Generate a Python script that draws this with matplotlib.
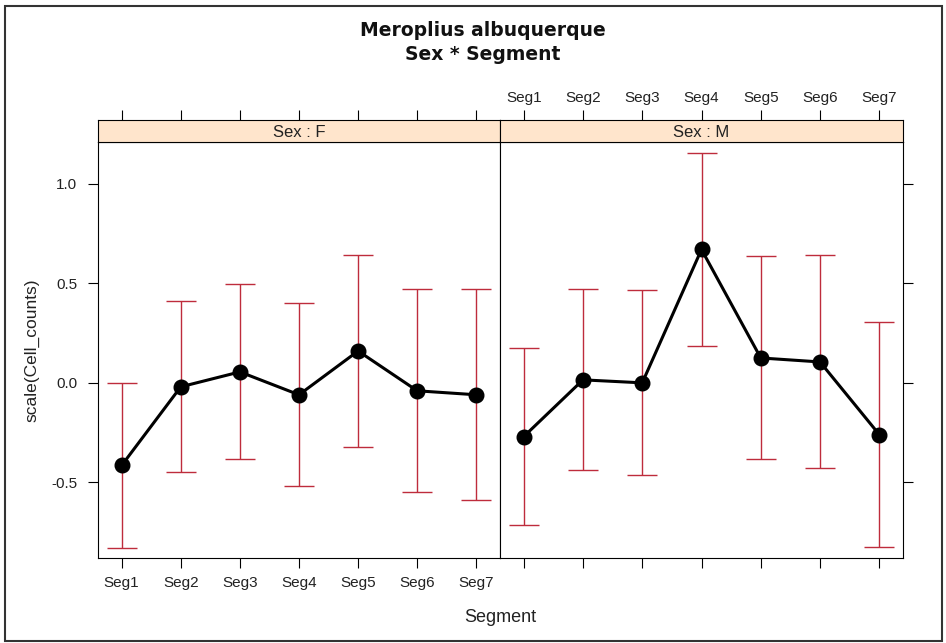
import numpy as np
import matplotlib.pyplot as plt
from matplotlib.patches import Rectangle

# group means of scaled cell counts with half-width of the interval
segments = ['Seg1', 'Seg2', 'Seg3', 'Seg4', 'Seg5', 'Seg6', 'Seg7']
sex_levels = ['F', 'M']
f_mean = [-0.415, -0.02, 0.055, -0.06, 0.16, -0.04, -0.06]
f_half = [0.415, 0.43, 0.44, 0.46, 0.48, 0.51, 0.53]
m_mean = [-0.27, 0.015, 0.0, 0.67, 0.125, 0.105, -0.26]
m_half = [0.445, 0.455, 0.465, 0.485, 0.51, 0.535, 0.565]
y_ticks = [-0.5, 0.0, 0.5, 1.0]
y_tick_labels = ['-0.5', '0.0', '0.5', '1.0']

plt.rcParams['font.family'] = ['Liberation Sans', 'DejaVu Sans']

W, H = 946, 643
fig = plt.figure(figsize=(W / 100, H / 100), dpi=100)


def px_box(x0, y0, x1, y1):
    # pixel box (top-left origin) -> figure fraction rect
    return [x0 / W, 1 - y1 / H, (x1 - x0) / W, (y1 - y0) / H]


text_col = '#222222'
bar_col = '#BE2C3C'
panels = [(98, 500), (500, 903)]
x = np.arange(1, len(segments) + 1)

for i, (sex, means, halves) in enumerate(zip(sex_levels, [f_mean, m_mean], [f_half, m_half])):
    x0, x1 = panels[i]
    ax = fig.add_axes(px_box(x0, 142, x1, 558))
    strip = fig.add_axes(px_box(x0, 120, x1, 142))

    ax.errorbar(x, means, yerr=halves, fmt='none', ecolor=bar_col,
                elinewidth=1.0, capsize=10.5, capthick=1.0, zorder=2)
    ax.plot(x, means, '-o', color='black', lw=2.2, ms=10.5, zorder=3)

    ax.set_xlim(0.6, 7.4)
    ax.set_ylim(-0.88, 1.21)
    for sp in ax.spines.values():
        sp.set_linewidth(0.8)

    ax.set_xticks(x)
    ax.set_xticklabels(segments)
    ax.set_yticks(y_ticks)
    ax.set_yticklabels(y_tick_labels)
    ax.tick_params(axis='x', direction='out', length=7, width=0.8, pad=6,
                   labelsize=11, labelcolor=text_col,
                   bottom=True, labelbottom=(i == 0))
    if i == 0:
        ax.tick_params(axis='y', direction='out', length=7, width=0.8, pad=8,
                       labelsize=11, labelcolor=text_col,
                       left=True, right=False, labelleft=True)
    else:
        ax.tick_params(axis='y', direction='out', length=7, width=0.8,
                       left=False, right=True, labelleft=False, labelright=False)

    # strip with the panel label, top axis ticks sit above it
    strip.set_facecolor('#FFE5CC')
    strip.set_xlim(0.6, 7.4)
    strip.set_ylim(0, 1)
    strip.set_yticks([])
    strip.set_xticks(x)
    strip.set_xticklabels(segments)
    strip.tick_params(axis='x', direction='out', length=7, width=0.8, pad=4,
                      labelsize=11, labelcolor=text_col,
                      bottom=False, labelbottom=False,
                      top=True, labeltop=(i == 1))
    for sp in strip.spines.values():
        sp.set_linewidth(0.8)
    strip.text(0.5, 0.45, 'Sex : ' + sex, transform=strip.transAxes,
               ha='center', va='center', fontsize=12, color=text_col)

fig.text(483 / W, 1 - 36 / H, 'Meroplius albuquerque', ha='center', va='baseline',
         fontsize=13.5, fontweight='bold', family='DejaVu Sans', color='#111111')
fig.text(483 / W, 1 - 60 / H, 'Sex * Segment', ha='center', va='baseline',
         fontsize=13.5, fontweight='bold', family='DejaVu Sans', color='#111111')
fig.text(32 / W, 1 - 350 / H, 'scale(Cell_counts)', rotation=90,
         ha='center', va='center', fontsize=12.5, color=text_col)
fig.text(500 / W, 1 - 622 / H, 'Segment', ha='center', va='baseline',
         fontsize=13, color=text_col)

fig.add_artist(Rectangle((4.5 / W, 1 - 641 / H), 937.5 / W, 635 / H,
                         transform=fig.transFigure, fill=False,
                         lw=1.5, ec='#333333'))

fig.savefig('out.png', dpi=100)
